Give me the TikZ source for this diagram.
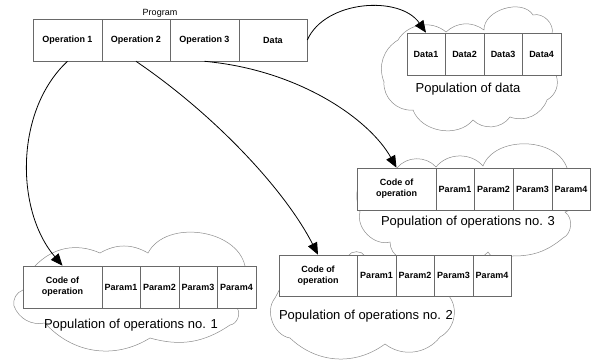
\documentclass[tikz,border=0pt]{standalone}
\usepackage{fontspec}
\setmainfont{Liberation Sans}
\usetikzlibrary{arrows.meta}
\definecolor{boxgray}{RGB}{105,105,105}
\definecolor{cloudgray}{RGB}{140,140,140}
\begin{document}
\begin{tikzpicture}[x=1pt,y=-1pt,
  cell/.style={draw=boxgray, fill=white, line width=0.6pt, minimum height=42pt, inner sep=0pt,
    font=\fontsize{9}{11}\selectfont\bfseries, align=center},
  cloudline/.style={draw=cloudgray, line width=0.5pt},
  link/.style={draw=black, line width=0.8pt, -{Triangle[length=12pt,width=10pt]}},
  poplabel/.style={font=\fontsize{13}{15}\selectfont, inner sep=0pt},
  smalllabel/.style={font=\fontsize{9}{10}\selectfont, inner sep=0pt}
]
\useasboundingbox (0,0) rectangle (594,362);

% ---- clouds ----
% data cloud
\draw[cloudline] (398,40) to[bend left=50] (446,32) to[bend left=40] (484,30)
  to[bend left=75] (533,15) to[bend left=60] (552,34) to[bend left=20] (556,75)
  to[bend left=40] (547,100) to[bend left=45] (510,117) to[bend left=50] (473,120)
  to[bend left=60] (413,110) to[bend left=50] (384,82) to[bend left=40] (398,40);
% operations 3 cloud
\draw[cloudline] (397,168) to[bend left=50] (436,167) to[bend left=50] (483,166)
  to[bend left=70] (567,168) to[bend left=30] (585,190) to[bend left=30] (565,212)
  to[bend left=60] (563,238) to[bend left=20] (512,256) to[bend left=50] (488,252)
  to[bend left=40] (400,258) to[bend left=30] (390,242) to[bend left=60] (360,212)
  to[bend left=20] (360,180) -- (397,168);
% operations 2 cloud
\draw[cloudline] (290,270) -- (348,256) to[bend left=60] (365,256) -- (440,270) -- (449,296)
  to[bend left=50] (440,337) to[bend left=45] (385,344) to[bend left=40] (290,338)
  to[bend left=60] (275,298) -- (290,270);
% operations 1 cloud
\draw[cloudline] (35,266) to[bend left=35] (100,253) to[bend left=30] (148,253)
  to[bend left=70] (245,266) -- (250,300) -- (237,308) to[bend left=60] (230,325)
  to[bend left=25] (150,338) to[bend left=40] (45,323) to[bend left=40] (14,306)
  to[bend left=40] (23,290) -- (35,266);

% ---- program bar ----
\node[smalllabel] (prog) at (160,13) {Program};
\node[cell, minimum width=69pt] (op1) at (67.5,40) {Operation 1};
\node[cell, minimum width=68pt] (op2) at (136,40) {Operation 2};
\node[cell, minimum width=69pt] (op3) at (204.5,40) {Operation 3};
\node[cell, minimum width=68pt] (data) at (273,40) {Data};

% ---- population of data ----
\node[cell, minimum width=38pt] (d1) at (426,54) {Data1};
\node[cell, minimum width=39pt] (d2) at (464.5,54) {Data2};
\node[cell, minimum width=38pt] (d3) at (503,54) {Data3};
\node[cell, minimum width=39pt] (d4) at (541.5,54) {Data4};
\node[poplabel] (popd) at (468,89) {Population of data};

% ---- population of operations no. 3 ----
\node[cell, minimum width=79pt] (c3) at (396.5,189) {Code of\\operation};
\node[cell, minimum width=38pt] (c3p1) at (455,189) {Param1};
\node[cell, minimum width=39pt] (c3p2) at (493.5,189) {Param2};
\node[cell, minimum width=39pt] (c3p3) at (532.5,189) {Param3};
\node[cell, minimum width=38pt] (c3p4) at (571,189) {Param4};
\node[poplabel] (pop3) at (468,222) {Population of operations no. 3};

% ---- population of operations no. 2 ----
\node[cell, minimum width=78pt, minimum height=41pt] (c2) at (318,275.5) {Code of\\operation};
\node[cell, minimum width=39pt, minimum height=41pt] (c2p1) at (376.5,275.5) {Param1};
\node[cell, minimum width=38pt, minimum height=41pt] (c2p2) at (415,275.5) {Param2};
\node[cell, minimum width=39pt, minimum height=41pt] (c2p3) at (453.5,275.5) {Param3};
\node[cell, minimum width=38pt, minimum height=41pt] (c2p4) at (492,275.5) {Param4};
\node[poplabel] (pop2) at (366,316) {Population of operations no. 2};

% ---- population of operations no. 1 ----
\node[cell, minimum width=79pt] (c1) at (62.5,287) {Code of\\operation};
\node[cell, minimum width=38pt] (c1p1) at (121,287) {Param1};
\node[cell, minimum width=39pt] (c1p2) at (159.5,287) {Param2};
\node[cell, minimum width=38pt] (c1p3) at (198,287) {Param3};
\node[cell, minimum width=39pt] (c1p4) at (236.5,287) {Param4};
\node[poplabel] (pop1) at (131,325) {Population of operations no. 1};

% ---- connectors ----
\draw[link] (op1.south) .. controls (15,110) and (15,210) .. (c1.north);
\draw[link] (op2.south) .. controls (215,115) and (285,190) .. (c2.north);
\draw[link] (op3.south) .. controls (300,70) and (370,120) .. (c3.north);
\draw[link] (data.east) .. controls (325,0) and (400,-5) .. (d1.north);
\end{tikzpicture}
\end{document}
